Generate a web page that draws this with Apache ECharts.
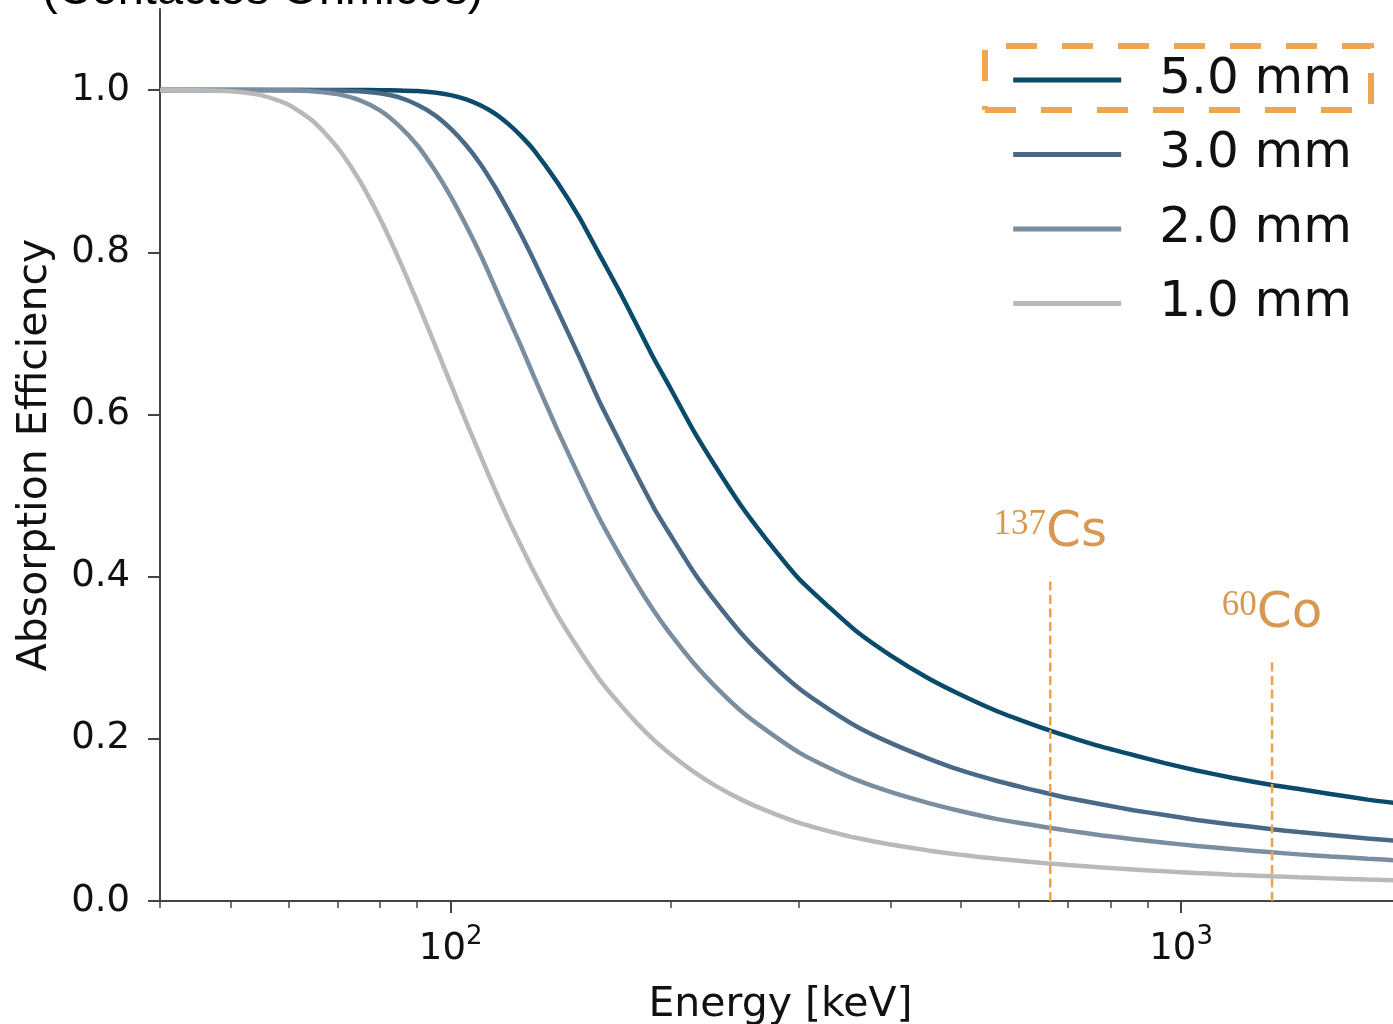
<!DOCTYPE html>
<html>
<head>
<meta charset="utf-8">
<script src="https://cdn.jsdelivr.net/npm/echarts@6/dist/echarts.min.js"></script>
<style>
  html, body { margin: 0; padding: 0; background: #ffffff; }
  #chart { width: 1393px; height: 1024px; }
</style>
</head>
<body>
<div id="chart"></div>
<script>
// Photon energies (keV) at which the absorption efficiency is tabulated
const energies = [40, 45, 50, 55, 60, 65, 70, 75, 80, 85,
  90, 95, 100, 105, 110, 115, 120, 125, 130, 140,
  150, 160, 170, 180, 190, 200, 215, 230, 250, 270,
  300, 330, 360, 400, 450, 500, 560, 620, 662, 700,
  780, 860, 950, 1050, 1173, 1332, 1450, 1600, 1800, 2000];

// Absorption efficiency for each detector thickness
const eff5mm = [1.0, 1.0, 1.0, 1.0, 1.0, 1.0, 1.0, 1.0, 0.9999, 0.9996,
  0.9988, 0.997, 0.9938, 0.9886, 0.981, 0.971, 0.958, 0.943, 0.926, 0.886,
  0.843, 0.7965, 0.753, 0.7095, 0.668, 0.632, 0.580, 0.537, 0.487, 0.447,
  0.397, 0.362, 0.332, 0.303, 0.275, 0.254, 0.234, 0.219, 0.210, 0.203,
  0.190, 0.180, 0.170, 0.161, 0.152, 0.143, 0.138, 0.132, 0.125, 0.120];
const eff3mm = [1.0, 1.0, 1.0, 1.0, 1.0, 0.9999, 0.9996, 0.9986, 0.996, 0.991,
  0.982, 0.9695, 0.9525, 0.932, 0.908, 0.8805, 0.851, 0.821, 0.790, 0.729,
  0.671, 0.615, 0.568, 0.524, 0.484, 0.451, 0.406, 0.370, 0.330, 0.299,
  0.262, 0.236, 0.215, 0.195, 0.176, 0.161, 0.148, 0.138, 0.132, 0.127,
  0.119, 0.112, 0.106, 0.100, 0.0944, 0.0886, 0.085, 0.0814, 0.0772, 0.0738];
const eff2mm = [1.0, 1.0, 1.0, 1.0, 0.9997, 0.9984, 0.995, 0.9876, 0.975, 0.956,
  0.932, 0.902, 0.869, 0.833, 0.796, 0.757, 0.719, 0.683, 0.647, 0.581,
  0.523, 0.471, 0.428, 0.390, 0.357, 0.329, 0.2935, 0.265, 0.234, 0.211,
  0.183, 0.164, 0.149, 0.1345, 0.121, 0.1106, 0.101, 0.0943, 0.090, 0.0868,
  0.0809, 0.0762, 0.0718, 0.0679, 0.064, 0.060, 0.0575, 0.055, 0.0522, 0.0498];
const eff1mm = [1.0, 0.9998, 0.9986, 0.9938, 0.9819, 0.9606, 0.9291, 0.8888, 0.842, 0.791,
  0.739, 0.6875, 0.638, 0.591, 0.548, 0.507, 0.470, 0.437, 0.406, 0.3525,
  0.3095, 0.2727, 0.244, 0.219, 0.198, 0.181, 0.1595, 0.1426, 0.125, 0.1117,
  0.0963, 0.0859, 0.0776, 0.0697, 0.0624, 0.0569, 0.052, 0.0483, 0.0461, 0.0444,
  0.0413, 0.0389, 0.0366, 0.0345, 0.0325, 0.0304, 0.0292, 0.0279, 0.0264, 0.0252];

const seriesNames = ['5.0 mm', '3.0 mm', '2.0 mm', '1.0 mm'];
const seriesValues = [eff5mm, eff3mm, eff2mm, eff1mm];
const seriesColors = ['#0a4b6b', '#4a6987', '#7b8ea0', '#b9b9b9'];

// Gamma lines of the reference sources: [energy keV, marker height, mass number, element]
const sourceLines = [
  [662, 0.4, '137', 'Cs'],
  [1332, 0.3, '60', 'Co']
];

// Axis ticks
const yTicks = [0.0, 0.2, 0.4, 0.6, 0.8, 1.0];
const xMajorTicks = [100, 1000];
const xMinorTicks = [40, 50, 60, 70, 80, 90, 200, 300, 400, 500, 600, 700, 800, 900, 2000];

const FONT = 'DejaVu Sans';
const orange = '#f0a24a';
const orangeText = '#cd7f26';
const axisColor = '#444';

const curveSeries = seriesNames.map((name, i) => ({
  name: name,
  type: 'line',
  data: energies.map((e, k) => [e, seriesValues[i][k]]),
  showSymbol: false,
  symbol: 'none',
  smooth: 0.2,
  lineStyle: { width: 4.5, color: seriesColors[i] },
  itemStyle: { color: seriesColors[i] },
  z: 2 + i
}));

const sourceSeries = [];
sourceLines.forEach(([e, h, mass, sym]) => {
  sourceSeries.push({
    name: sym + '-' + mass,
    type: 'line',
    data: [[e, 0], [e, h]],
    showSymbol: false,
    symbol: 'none',
    lineStyle: { width: 2.5, color: orange, type: [9, 4.5] },
    z: 10
  });
  sourceSeries.push({
    name: sym + '-' + mass + ' label',
    type: 'scatter',
    data: [[e, h]],
    symbolSize: 0,
    label: {
      show: true,
      position: 'top',
      distance: 19,
      formatter: '{m|' + mass + '}{s|' + sym + '}',
      rich: {
        m: { fontFamily: 'Liberation Serif', fontSize: 35, lineHeight: 35, verticalAlign: 'top', color: orangeText },
        s: { fontFamily: FONT, fontSize: 50, lineHeight: 50, color: orangeText }
      }
    },
    z: 10
  });
});

const chart = echarts.init(document.getElementById('chart'), null, { renderer: 'canvas' });

chart.setOption({
  animation: false,
  backgroundColor: '#ffffff',
  grid: { left: 160, right: -8, top: 9, bottom: 123, containLabel: false, outerBoundsMode: 'none' },
  legend: {
    data: seriesNames,
    orient: 'vertical',
    right: 41,
    top: 55,
    padding: 0,
    icon: 'rect',
    itemWidth: 108,
    itemHeight: 5,
    itemGap: 24.5,
    textStyle: { fontFamily: FONT, fontSize: 50, color: '#111', lineHeight: 50, padding: [0, 0, 0, 33] }
  },
  xAxis: [
    {
      type: 'log',
      logBase: 10,
      min: 40,
      max: 2000,
      position: 'bottom',
      name: 'Energy [keV]',
      nameLocation: 'middle',
      nameGap: 84,
      nameTextStyle: { fontFamily: FONT, fontSize: 41, color: '#111' },
      axisLine: { show: true, lineStyle: { color: axisColor, width: 2 } },
      axisTick: { show: true, length: 12, customValues: xMajorTicks, lineStyle: { color: axisColor, width: 2 } },
      axisLabel: {
        show: true,
        customValues: xMajorTicks,
        margin: 23,
        formatter: v => '{b|10}{s|' + Math.round(Math.log10(v)) + '}',
        rich: {
          b: { fontFamily: FONT, fontSize: 37, lineHeight: 50, color: '#111' },
          s: { fontFamily: FONT, fontSize: 26, lineHeight: 26, verticalAlign: 'top', color: '#111' }
        }
      },
      splitLine: { show: false },
      minorTick: { show: false },
      minorSplitLine: { show: false }
    },
    {
      type: 'log',
      logBase: 10,
      min: 40,
      max: 2000,
      position: 'bottom',
      axisLine: { show: false },
      axisTick: { show: true, length: 7, customValues: xMinorTicks, lineStyle: { color: axisColor, width: 1.5 } },
      axisLabel: { show: false },
      splitLine: { show: false }
    }
  ],
  yAxis: {
    type: 'value',
    min: 0,
    max: 1.1,
    name: 'Absorption Efficiency',
    nameLocation: 'middle',
    nameGap: 104,
    nameTextStyle: { fontFamily: FONT, fontSize: 41, color: '#111' },
    axisLine: { show: true, lineStyle: { color: axisColor, width: 2 } },
    axisTick: { show: true, length: 12, customValues: yTicks, lineStyle: { color: axisColor, width: 2 } },
    axisLabel: {
      customValues: yTicks,
      margin: 30,
      fontFamily: FONT,
      fontSize: 37,
      color: '#111',
      formatter: v => v.toFixed(1)
    },
    splitLine: { show: false }
  },
  graphic: [
    {
      type: 'text',
      left: 42,
      top: -32,
      style: { text: '(Contactos Óhmicos)', fontFamily: 'Liberation Sans', fontSize: 47, fill: '#000' },
      z: 20
    },
    {
      // dashed highlight around the thickest detector's legend entry
      type: 'polyline',
      shape: { points: [[985, 110], [1371, 110], [1371, 46], [985, 46], [985, 110]] },
      style: { fill: 'none', stroke: '#f0a54e', lineWidth: 6, lineDash: [31, 25] },
      z: 20
    }
  ],
  series: curveSeries.concat(sourceSeries)
});
</script>
</body>
</html>
